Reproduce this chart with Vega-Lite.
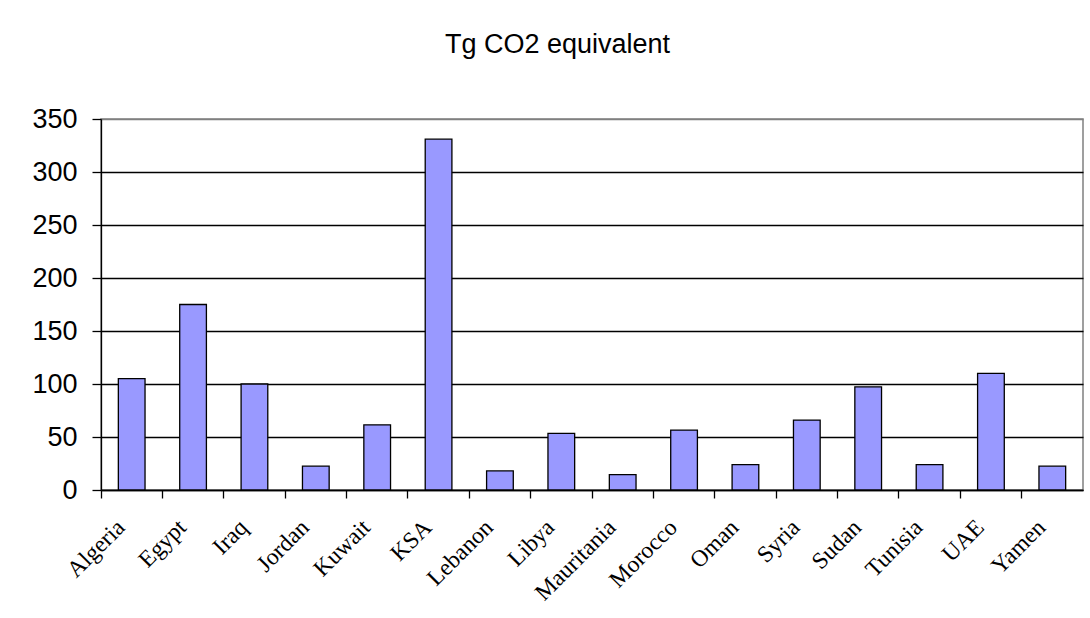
{
  "$schema": "https://vega.github.io/schema/vega-lite/v6.json",
  "width": 982,
  "height": 371,
  "autosize": {"type": "none"},
  "padding": {"left": 101, "top": 119, "right": 7, "bottom": 128},
  "background": "white",
  "title": {
    "text": "Tg CO2 equivalent",
    "font": "Liberation Sans",
    "fontSize": 27,
    "fontWeight": "normal",
    "color": "black",
    "anchor": "middle",
    "frame": "bounds",
    "offset": 46
  },
  "data": {
    "values": [
      {"country": "Algeria", "value": 105},
      {"country": "Egypt", "value": 175},
      {"country": "Iraq", "value": 100},
      {"country": "Jordan", "value": 22.5},
      {"country": "Kuwait", "value": 61.5},
      {"country": "KSA", "value": 331},
      {"country": "Lebanon", "value": 18},
      {"country": "Libya", "value": 53.5},
      {"country": "Mauritania", "value": 14.5},
      {"country": "Morocco", "value": 56.5},
      {"country": "Oman", "value": 24},
      {"country": "Syria", "value": 66},
      {"country": "Sudan", "value": 97.3},
      {"country": "Tunisia", "value": 24},
      {"country": "UAE", "value": 110},
      {"country": "Yamen", "value": 22.5}
    ]
  },
  "mark": {"type": "bar", "fill": "#9999FF", "stroke": "black", "strokeWidth": 1.3},
  "encoding": {
    "x": {
      "field": "country",
      "type": "nominal",
      "sort": null,
      "scale": {"paddingInner": 0.565, "paddingOuter": 0.2825},
      "axis": {
        "title": null,
        "labelAngle": -45,
        "labelFont": "Liberation Serif",
        "labelFontSize": 23.5,
        "labelColor": "black",
        "labelPadding": 17,
        "labelOffset": -19,
        "domainColor": "black",
        "domainWidth": 1.3,
        "tickColor": "black",
        "tickSize": 8,
        "tickWidth": 1.3,
        "bandPosition": -0.649,
        "grid": false
      }
    },
    "y": {
      "field": "value",
      "type": "quantitative",
      "scale": {"domain": [0, 350], "nice": false},
      "axis": {
        "title": null,
        "values": [0, 50, 100, 150, 200, 250, 300, 350],
        "labelFont": "Liberation Sans",
        "labelFontSize": 27,
        "labelColor": "black",
        "labelPadding": 15,
        "domainColor": "black",
        "domainWidth": 1.3,
        "tickColor": "black",
        "tickSize": 9,
        "tickWidth": 1.3,
        "grid": true,
        "gridColor": {"condition": {"test": "datum.value === 350", "value": "#808080"}, "value": "black"},
        "gridWidth": 1.3,
        "gridOpacity": 1
      }
    }
  },
  "config": {
    "view": {"stroke": "#808080", "strokeWidth": 1.5}
  }
}
